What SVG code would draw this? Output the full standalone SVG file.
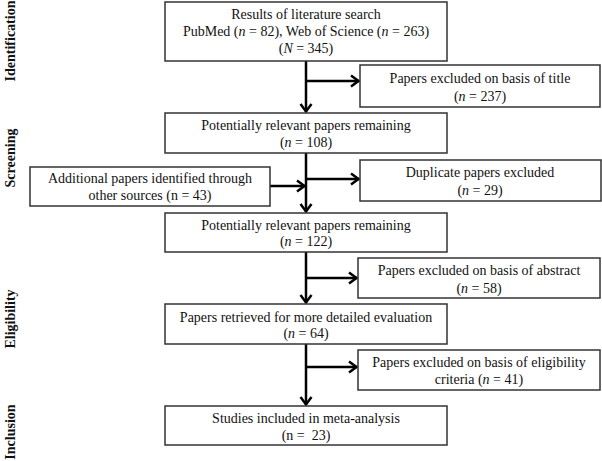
<svg xmlns="http://www.w3.org/2000/svg" width="602" height="461" viewBox="0 0 602 461">
<style>
rect.b{fill:#fff;stroke:#333;stroke-width:1.5}
text{font-family:"Liberation Serif","Times New Roman",serif;font-size:14px;fill:#111;text-anchor:middle}
text.lab{font-weight:bold;font-size:14px}
.c{stroke:#000;stroke-width:2.5;fill:none}
</style>
<defs>
<marker id="ah" markerUnits="userSpaceOnUse" markerWidth="14" markerHeight="14" refX="10" refY="7" orient="auto">
<path d="M2,1.5 L9.5,7 L2,12.5" fill="none" stroke="#000" stroke-width="2.5" stroke-linejoin="miter"/>
</marker>
</defs>
<g id="phase-labels">
<text class="lab" transform="translate(15,41) rotate(-90)">Identification</text>
<text class="lab" transform="translate(15,158) rotate(-90)">Screening</text>
<text class="lab" transform="translate(15,319) rotate(-90)">Eligibility</text>
<text class="lab" transform="translate(15,432) rotate(-90)">Inclusion</text>
</g>
<g id="connectors">
<line class="c" x1="306" y1="61" x2="306" y2="112" marker-end="url(#ah)"/>
<line class="c" x1="306" y1="81" x2="359" y2="81" marker-end="url(#ah)"/>
<line class="c" x1="306" y1="153" x2="306" y2="212" marker-end="url(#ah)"/>
<line class="c" x1="306" y1="179" x2="359" y2="179" marker-end="url(#ah)"/>
<line class="c" x1="270" y1="186" x2="305" y2="186" marker-end="url(#ah)"/>
<line class="c" x1="306" y1="252" x2="306" y2="303" marker-end="url(#ah)"/>
<line class="c" x1="306" y1="278" x2="357" y2="278" marker-end="url(#ah)"/>
<line class="c" x1="306" y1="344" x2="306" y2="405" marker-end="url(#ah)"/>
<line class="c" x1="306" y1="367" x2="357" y2="367" marker-end="url(#ah)"/>
</g>
<g id="search">
<rect class="b" x="165" y="2" width="282" height="59"/>
<text x="306" y="19">Results of literature search</text>
<text x="306" y="36">PubMed (<tspan font-style="italic">n</tspan> = 82), Web of Science (<tspan font-style="italic">n</tspan> = 263)</text>
<text x="306" y="53">(<tspan font-style="italic">N</tspan> = 345)</text>
</g>
<g id="excl-title">
<rect class="b" x="360" y="65" width="240" height="42"/>
<text x="480" y="83">Papers excluded on basis of title</text>
<text x="480" y="101">(<tspan font-style="italic">n</tspan> = 237)</text>
</g>
<g id="relevant-108">
<rect class="b" x="165" y="113" width="282" height="40"/>
<text x="306" y="130">Potentially relevant papers remaining</text>
<text x="306" y="147">(<tspan font-style="italic">n</tspan> = 108)</text>
</g>
<g id="additional">
<rect class="b" x="30" y="167" width="240" height="39"/>
<text x="150" y="183">Additional papers identified through</text>
<text x="150" y="200">other sources (n = 43)</text>
</g>
<g id="duplicates">
<rect class="b" x="360" y="160" width="241" height="41"/>
<text x="480" y="177">Duplicate papers excluded</text>
<text x="480" y="195">(<tspan font-style="italic">n</tspan> = 29)</text>
</g>
<g id="relevant-122">
<rect class="b" x="165" y="213" width="282" height="39"/>
<text x="306" y="230">Potentially relevant papers remaining</text>
<text x="306" y="246">(<tspan font-style="italic">n</tspan> = 122)</text>
</g>
<g id="excl-abstract">
<rect class="b" x="358" y="258" width="242" height="40"/>
<text x="479" y="275">Papers excluded on basis of abstract</text>
<text x="479" y="293">(<tspan font-style="italic">n</tspan> = 58)</text>
</g>
<g id="retrieved">
<rect class="b" x="165" y="304" width="282" height="40"/>
<text x="306" y="322">Papers retrieved for more detailed evaluation</text>
<text x="306" y="338">(<tspan font-style="italic">n</tspan> = 64)</text>
</g>
<g id="excl-eligibility">
<rect class="b" x="358" y="350" width="242" height="40"/>
<text x="479" y="367">Papers excluded on basis of eligibility</text>
<text x="479" y="384">criteria (<tspan font-style="italic">n</tspan> = 41)</text>
</g>
<g id="included">
<rect class="b" x="165" y="406" width="282" height="39"/>
<text x="306" y="423">Studies included in meta-analysis</text>
<text x="306" y="440">(n =&#160; 23)</text>
</g>
</svg>
